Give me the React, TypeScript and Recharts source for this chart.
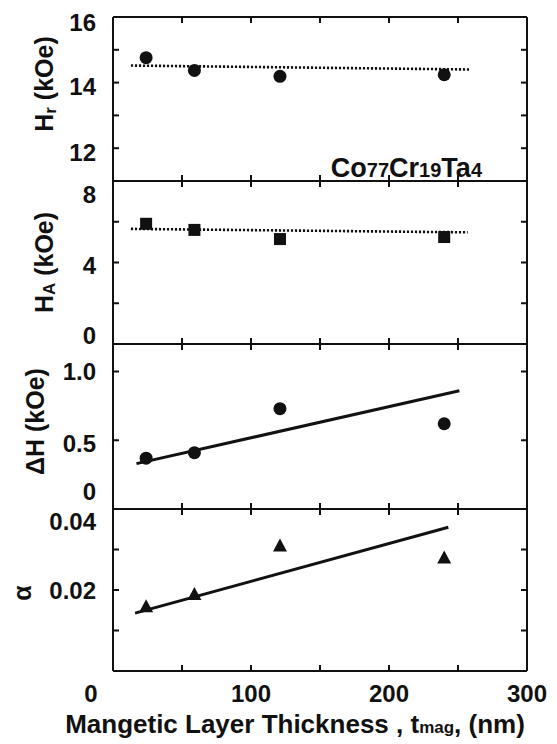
import React from 'react';
import { ComposedChart, XAxis, YAxis, Scatter, Line } from 'recharts';

// ---------------- data ----------------
const thicknessNm = [24, 59, 121, 240];
const hrValues = [14.76, 14.37, 14.19, 14.24];
const haValues = [5.9, 5.6, 5.15, 5.25];
const deltaHValues = [0.37, 0.41, 0.73, 0.62];
const alphaValues = [0.016, 0.019, 0.031, 0.028];

const hrFitX = [13, 258];
const hrFitY = [14.52, 14.4];
const haFitX = [13, 257];
const haFitY = [5.65, 5.48];
const deltaHFitX = [17, 251];
const deltaHFitY = [0.33, 0.86];
const alphaFitX = [16, 243];
const alphaFitY = [0.0143, 0.0355];

const xMinorTicks = [50, 100, 150, 200, 250];
const xLabelTicks = [0, 100, 200, 300];

const hrMinorTicks = [12, 13, 14, 15];
const hrLabelTicks = [12, 14, 16];
const haMinorTicks = [2, 4, 6];
const haLabelTicks = [0, 4, 8];
const deltaHMinorTicks = [0.5, 1.0];
const deltaHLabelTicks = [0, 0.5, 1.0];
const alphaMinorTicks = [0.01, 0.02, 0.03];
const alphaLabelTicks = [0.02, 0.04];

const zip = (xs: number[], ys: number[]) => xs.map((x, i) => ({ x, y: ys[i] }));

// ---------------- styles ----------------
const W = 557;
const FONT = "'Liberation Sans', Arial, Helvetica, sans-serif";
const INK = '#111';
const axisLineStyle = { stroke: INK, strokeWidth: 2 };
const tickLineStyle = { stroke: INK, strokeWidth: 2 };

const circleShape = (p: any) => <circle cx={p.cx} cy={p.cy} r={6.5} fill={INK} />;
const squareShape = (p: any) => <rect x={p.cx - 6} y={p.cy - 6} width={12} height={12} fill={INK} />;
const triangleShape = (p: any) => (
  <polygon points={`${p.cx},${p.cy - 7} ${p.cx + 7},${p.cy + 6} ${p.cx - 7},${p.cy + 6}`} fill={INK} />
);
const noTick = () => <g />;

const textStyle = { fontFamily: FONT, fill: INK, fontWeight: 700 } as const;

function makeYTick(fmt: (v: number) => string, shift: (v: number) => number) {
  return (p: any) => {
    const v = p.payload.value;
    return (
      <text x={p.x} y={p.y + shift(v)} dy="0.36em" textAnchor="end" fontSize={24} {...textStyle}>
        {fmt(v)}
      </text>
    );
  };
}

const renderXTick = (p: any) => {
  const v = p.payload.value;
  const dx = v === 0 ? -22 : 0;
  return (
    <text x={p.x + dx} y={p.y + 22} dy="0.36em" textAnchor="middle" fontSize={24} {...textStyle}>
      {v}
    </text>
  );
};

const renderXTitle = (p: any) => {
  const vb = p.viewBox || { x: 113, y: 671, width: 414, height: 80 };
  return (
    <text x={vb.x + vb.width / 2 - 25} y={vb.y + 53} dy="0.36em" textAnchor="middle" fontSize={26} {...textStyle}>
      Mangetic Layer Thickness , t<tspan fontSize={17}>mag</tspan>, (nm)
    </text>
  );
};

function makeYTitle(cx: number, dyShift: number, content: React.ReactNode) {
  return (p: any) => {
    const vb = p.viewBox || { x: 0, y: 0, width: 113, height: 164 };
    const cy = vb.y + vb.height / 2 + dyShift;
    return (
      <text x={cx} y={cy} transform={`rotate(-90, ${cx}, ${cy})`} textAnchor="middle" dy="0.36em" fontSize={25} {...textStyle}>
        {content}
      </text>
    );
  };
}

type PanelProps = {
  top: number;
  height: number;
  domain: [number, number];
  minorTicks: number[];
  labelTicks: number[];
  yTick: (p: any) => React.ReactElement;
  yTitle: (p: any) => React.ReactElement;
  points: { x: number; y: number }[];
  fit: { x: number; y: number }[];
  dotted: boolean;
  shape: (p: any) => React.ReactElement;
  xLabels?: boolean;
  annotation?: (p: any) => React.ReactElement;
};

function Panel(props: PanelProps) {
  const { top, height, domain, minorTicks, labelTicks, yTick, yTitle, points, fit, dotted, shape, xLabels, annotation } = props;
  const extra = xLabels ? 80 : 0;
  return (
    <ComposedChart
      width={W}
      height={height + extra}
      margin={{ top: 0, right: 30, bottom: 0, left: 0 }}
      style={{ position: 'absolute', left: 0, top }}
    >
      <XAxis xAxisId="b" type="number" dataKey="x" domain={[0, 300]} ticks={xMinorTicks} orientation="bottom" mirror
        interval={0} tick={noTick} tickSize={6} axisLine={axisLineStyle} tickLine={tickLineStyle} allowDataOverflow />
      <XAxis xAxisId="t" type="number" dataKey="x" domain={[0, 300]} ticks={xMinorTicks} orientation="top" mirror
        interval={0} tick={noTick} tickSize={6} axisLine={axisLineStyle} tickLine={tickLineStyle} allowDataOverflow label={annotation} />
      {xLabels && (
        <XAxis xAxisId="lbl" type="number" dataKey="x" domain={[0, 300]} ticks={xLabelTicks} orientation="bottom" height={80}
          interval={0} axisLine={false} tickLine={false} tickSize={0} tickMargin={0} tick={renderXTick} label={renderXTitle} allowDataOverflow />
      )}
      <YAxis yAxisId="m" type="number" dataKey="y" domain={domain} ticks={minorTicks} orientation="left" mirror
        interval={0} tick={noTick} tickSize={6} axisLine={axisLineStyle} tickLine={tickLineStyle} allowDataOverflow />
      <YAxis yAxisId="r" type="number" dataKey="y" domain={domain} ticks={minorTicks} orientation="right" mirror
        interval={0} tick={noTick} tickSize={6} axisLine={axisLineStyle} tickLine={tickLineStyle} allowDataOverflow />
      <YAxis yAxisId="lbl" type="number" domain={domain} ticks={labelTicks} orientation="left" width={113}
        interval={0} axisLine={false} tickLine={false} tickSize={0} tickMargin={17} tick={yTick} label={yTitle} allowDataOverflow />
      <Line xAxisId="b" yAxisId="m" data={fit} dataKey="y" type="linear" stroke={INK}
        strokeWidth={dotted ? 2.6 : 3} strokeDasharray={dotted ? '2.2 1.8' : undefined} dot={false} activeDot={false}
        isAnimationActive={false} />
      <Scatter xAxisId="b" yAxisId="m" data={points} dataKey="y" shape={shape} isAnimationActive={false} />
    </ComposedChart>
  );
}

const compositionLabel = () => (
  <text x={482} y={160} textAnchor="end" fontSize={27} {...textStyle}>
    Co<tspan fontSize={20}>77</tspan>Cr<tspan fontSize={20}>19</tspan>Ta<tspan fontSize={20}>4</tspan>
  </text>
);

export default function App() {
  return (
    <div style={{ position: 'absolute', left: 0, top: 0, width: W, height: 744, background: '#fff' }}>
      <style>{'svg{overflow:visible}'}</style>
      <Panel
        top={17}
        height={164}
        domain={[11, 16]}
        minorTicks={hrMinorTicks}
        labelTicks={hrLabelTicks}
        yTick={makeYTick((v) => String(v), (v) => (v === 16 ? 5 : 4))}
        yTitle={makeYTitle(44, -15, <>H<tspan fontSize={17} dy={3}>r</tspan><tspan dy={-3}> (kOe)</tspan></>)}
        points={zip(thicknessNm, hrValues)}
        fit={zip(hrFitX, hrFitY)}
        dotted
        shape={circleShape}
        annotation={compositionLabel}
      />
      <Panel
        top={181}
        height={163}
        domain={[0, 8]}
        minorTicks={haMinorTicks}
        labelTicks={haLabelTicks}
        yTick={makeYTick((v) => String(v), (v) => (v === 8 ? 13 : v === 0 ? -9 : 3))}
        yTitle={makeYTitle(44, 0, <>H<tspan fontSize={17} dy={2}>A</tspan><tspan dy={-2}> (kOe)</tspan></>)}
        points={zip(thicknessNm, haValues)}
        fit={zip(haFitX, haFitY)}
        dotted
        shape={squareShape}
      />
      <Panel
        top={344}
        height={165}
        domain={[0, 1.2]}
        minorTicks={deltaHMinorTicks}
        labelTicks={deltaHLabelTicks}
        yTick={makeYTick((v) => (v === 0 ? '0' : v.toFixed(1)), (v) => (v === 0 ? -18 : v === 0.5 ? 3 : 0))}
        yTitle={makeYTitle(35, -5, <>ΔH (kOe)</>)}
        points={zip(thicknessNm, deltaHValues)}
        fit={zip(deltaHFitX, deltaHFitY)}
        dotted={false}
        shape={circleShape}
      />
      <Panel
        top={509}
        height={162}
        domain={[0, 0.04]}
        minorTicks={alphaMinorTicks}
        labelTicks={alphaLabelTicks}
        yTick={makeYTick((v) => v.toFixed(2), (v) => (v === 0.04 ? 12 : 0))}
        yTitle={makeYTitle(22, 3, <>α</>)}
        points={zip(thicknessNm, alphaValues)}
        fit={zip(alphaFitX, alphaFitY)}
        dotted={false}
        shape={triangleShape}
        xLabels
      />
    </div>
  );
}
